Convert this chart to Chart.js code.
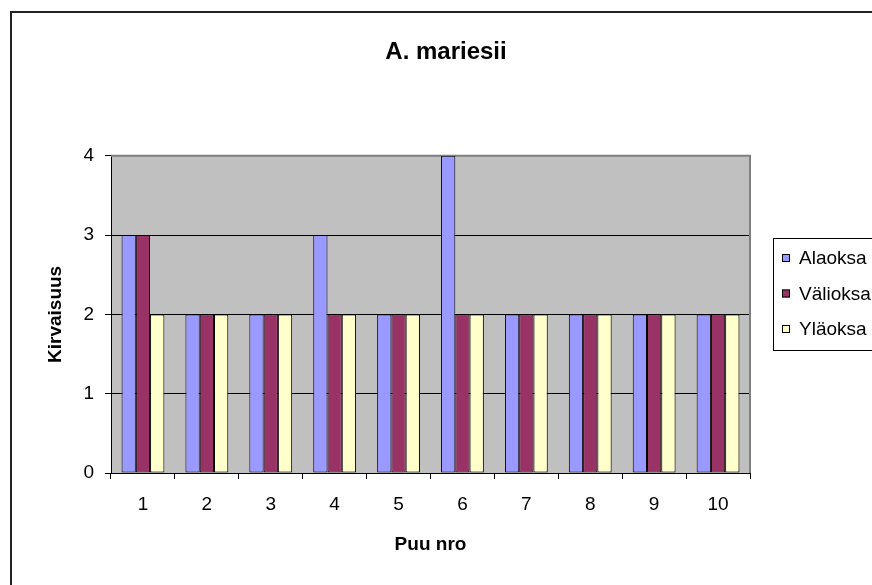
<!DOCTYPE html>
<html lang="fi">
<head>
<meta charset="UTF-8">
<title>A. mariesii</title>
<script src="https://cdn.jsdelivr.net/npm/chart.js@4/dist/chart.umd.min.js"></script>
<style>
    html, body { margin: 0; padding: 0; background: #fff; overflow: hidden; width: 872px; height: 585px; }
    .frame { position: absolute; left: 10px; top: 11px; border-left: 2px solid #222; border-top: 2px solid #222; }
    canvas { display: block; }
</style>
</head>
<body>
<div class="frame">
    <canvas id="chart" width="868" height="572"></canvas>
</div>
<script>
    const puut = ['1', '2', '3', '4', '5', '6', '7', '8', '9', '10'];
    const alaoksa = [3, 2, 2, 3, 2, 4, 2, 2, 2, 2];
    const valioksa = [3, 2, 2, 2, 2, 2, 2, 2, 2, 2];
    const ylaoksa = [2, 2, 2, 2, 2, 2, 2, 2, 2, 2];
    const yTicks = [0, 1, 2, 3, 4];

    Chart.defaults.font.family = "Arial, 'Liberation Sans', sans-serif";
    Chart.defaults.color = '#000';

    // harmaa piirtoalue + harmaa reunus ylhäällä ja oikealla
    const plotArea = {
        id: 'plotArea',
        beforeDraw(chart) {
            const { ctx, chartArea: a } = chart;
            ctx.save();
            ctx.fillStyle = '#c0c0c0';
            ctx.fillRect(a.left, a.top, a.right - a.left, a.bottom - a.top);
            ctx.restore();
        },
        beforeDatasetsDraw(chart) {
            const { ctx, chartArea: a } = chart;
            ctx.save();
            ctx.strokeStyle = '#808080';
            ctx.lineWidth = 2;
            ctx.beginPath();
            ctx.moveTo(a.left, a.top);
            ctx.lineTo(a.right, a.top);
            ctx.lineTo(a.right, a.bottom);
            ctx.stroke();
            ctx.restore();
        }
    };

    // selite kehyksen kanssa, kuten Excelissä
    const legendBox = {
        id: 'legendBox',
        afterDraw(chart) {
            const { ctx, chartArea: a } = chart;
            const left = a.right + 23, top = 225;
            ctx.save();
            ctx.strokeStyle = '#000';
            ctx.lineWidth = 1;
            ctx.strokeRect(left + 0.5, top + 0.5, 200, 112);
            ctx.font = "19px Arial, 'Liberation Sans', sans-serif";
            ctx.textBaseline = 'middle';
            chart.data.datasets.forEach((ds, i) => {
                const cy = top + 20 + i * 35.5;
                ctx.fillStyle = ds.backgroundColor;
                ctx.fillRect(left + 9, cy - 4, 8, 8);
                ctx.strokeRect(left + 9.5, cy - 3.5, 7, 7);
                ctx.fillStyle = '#000';
                ctx.fillText(ds.label, left + 26, cy + 1);
            });
            ctx.restore();
        }
    };

    const bar = (label, data, color) => ({
        label, data,
        backgroundColor: color,
        borderColor: '#000',
        borderWidth: 1,
        borderSkipped: false,
        categoryPercentage: 0.67,
        barPercentage: 1
    });

    new Chart(document.getElementById('chart'), {
        type: 'bar',
        data: {
            labels: puut,
            datasets: [
                bar('Alaoksa', alaoksa, '#9999ff'),
                bar('Välioksa', valioksa, '#993366'),
                bar('Yläoksa', ylaoksa, '#ffffcc')
            ]
        },
        options: {
            responsive: false,
            animation: false,
            devicePixelRatio: 1,
            layout: { padding: 0 },
            plugins: {
                legend: { display: false },
                tooltip: { enabled: false },
                title: {
                    display: true,
                    text: 'A. mariesii',
                    font: { size: 24, weight: 'bold' },
                    padding: { top: 25, bottom: 89 }
                }
            },
            scales: {
                x: {
                    grid: { display: true, drawOnChartArea: false, offset: true, color: '#000', tickLength: 6 },
                    border: { color: '#000', width: 1 },
                    ticks: { font: { size: 19 }, padding: 14, maxRotation: 0 },
                    title: { display: true, text: 'Puu nro', font: { size: 19, weight: 'bold' }, padding: { top: 0, bottom: 29 } },
                    afterFit: s => { s.height = 112; }
                },
                y: {
                    min: 0, max: 4,
                    afterBuildTicks: s => { s.ticks = yTicks.map(v => ({ value: v })); },
                    grid: { color: '#000', tickLength: 6 },
                    border: { color: '#000', width: 1 },
                    ticks: { font: { size: 19 }, padding: 11 },
                    title: { display: true, text: 'Kirvaisuus', font: { size: 19, weight: 'bold' }, padding: { top: 32, bottom: 0 } },
                    afterFit: s => { s.width = 99; }
                },
                // tyhjä tila selitteelle oikealla
                tila: {
                    position: 'right',
                    grid: { display: false },
                    border: { display: false },
                    ticks: { display: false },
                    afterFit: s => { s.width = 130; }
                }
            }
        },
        plugins: [plotArea, legendBox]
    });
</script>
</body>
</html>
